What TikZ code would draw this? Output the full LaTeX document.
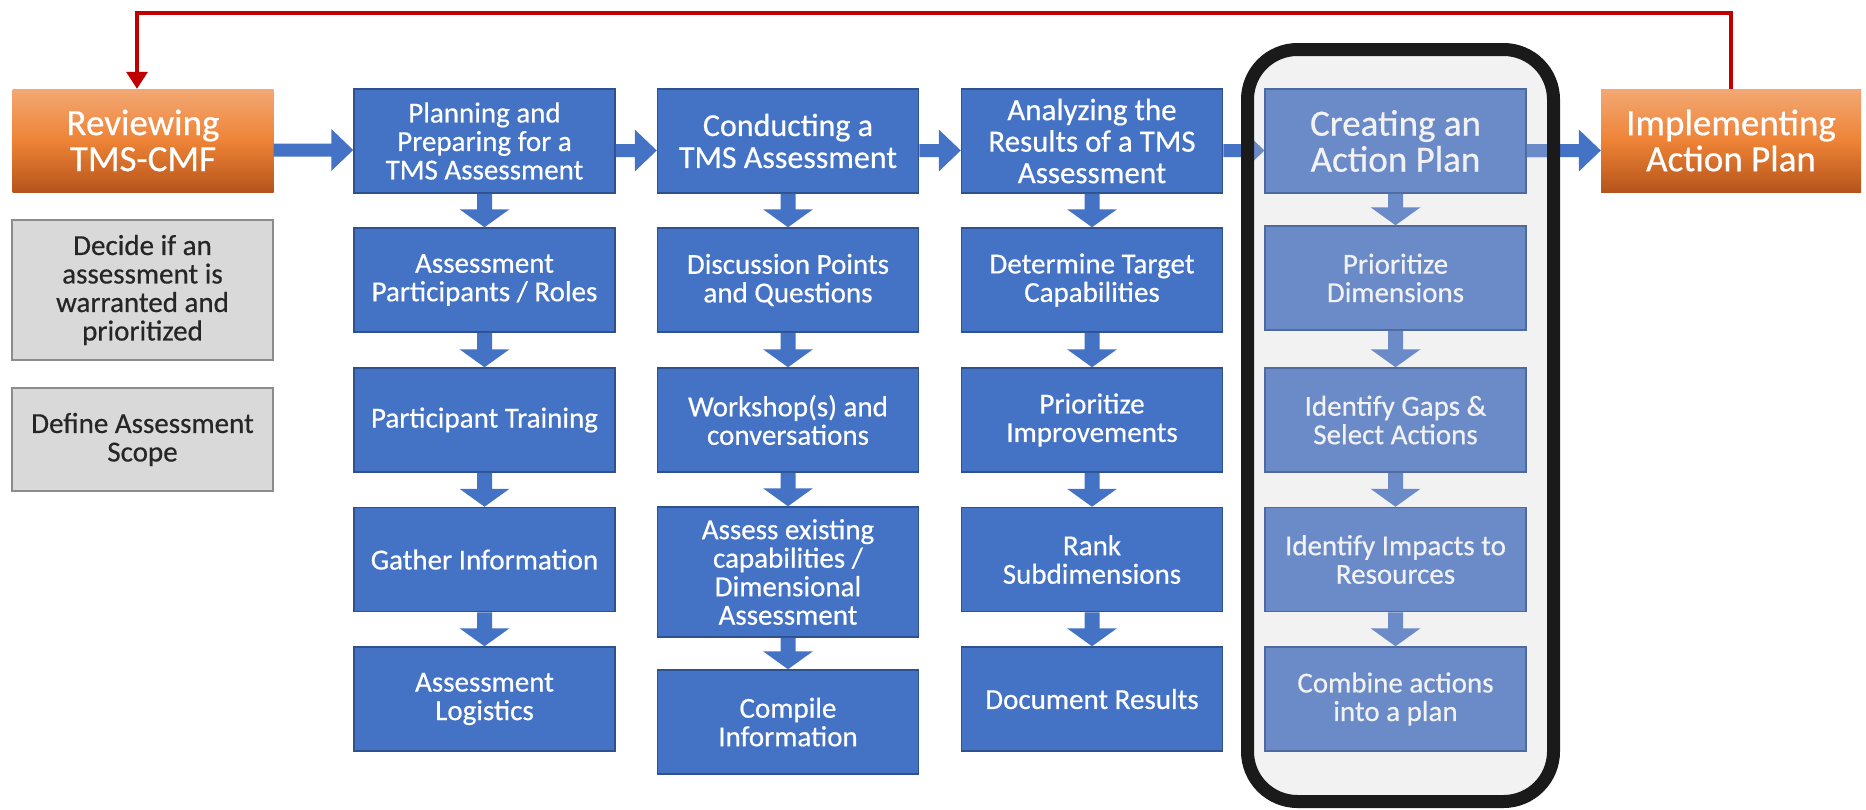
\documentclass[tikz,border=0pt]{standalone}
\usepackage{fontspec}
\setmainfont{Carlito}[FakeBold=0.5]
\usetikzlibrary{calc,arrows.meta}
\definecolor{bblue}{HTML}{4472C4}
\definecolor{bborder}{HTML}{2F528F}
\definecolor{lblue}{HTML}{6A8AC8}
\definecolor{lborder}{HTML}{4E6A9E}
\definecolor{ltext}{HTML}{F2F2F2}
\definecolor{gfill}{HTML}{D9D9D9}
\definecolor{gborder}{HTML}{8C8C8C}
\definecolor{gtext}{HTML}{262626}
\definecolor{regfill}{HTML}{F2F2F2}
\definecolor{regline}{HTML}{1A1A1A}
\definecolor{oTop}{HTML}{F3A874}
\definecolor{oMid}{HTML}{EE8336}
\definecolor{oBot}{HTML}{B5541B}
\definecolor{redline}{HTML}{C00000}
\tikzset{
  box/.style={rectangle, minimum width=261pt, minimum height=104pt, inner sep=2pt, align=center},
  bluebox/.style={box, fill=bblue, draw=bborder, line width=1.5pt, text=white, font=\fontsize{29}{28.5}\selectfont},
  lightbox/.style={box, fill=lblue, draw=lborder, line width=1.5pt, text=ltext, font=\fontsize{29}{28.5}\selectfont},
  graybox/.style={box, fill=gfill, draw=gborder, line width=2pt, text=gtext, font=\fontsize{29}{28.5}\selectfont},
  orangebox/.style={box, minimum height=103pt, top color=oTop, bottom color=oBot, middle color=oMid, text=white, font=\fontsize{37}{36}\selectfont},
  bigtext/.style={font=\fontsize{37}{36}\selectfont},
  redconn/.style={draw=redline, line width=3.5pt, -{Triangle[width=21pt,length=17pt]}},
}
\newcommand\harr[3]{\fill[#1] let \p1=(#2), \p2=(#3) in (\x1,\y1+6.5pt) -- (\x2-22pt,\y1+6.5pt) -- (\x2-22pt,\y1+21pt) -- (\x2,\y1) -- (\x2-22pt,\y1-21pt) -- (\x2-22pt,\y1-6.5pt) -- (\x1,\y1-6.5pt) -- cycle;}
\newcommand\varr[3]{\fill[#1] let \p1=(#2), \p2=(#3) in (\x1-7.5pt,\y1) -- (\x1-7.5pt,\y2+18pt) -- (\x1-25pt,\y2+18pt) -- (\x1,\y2) -- (\x1+25pt,\y2+18pt) -- (\x1+7.5pt,\y2+18pt) -- (\x1+7.5pt,\y1) -- cycle;}
\begin{document}
\begin{tikzpicture}[x=1pt,y=-1pt]
\useasboundingbox (0,0) rectangle (1866,809);
% region background
\fill[regfill, rounded corners=50pt] (1247.5,49.5) rectangle (1553.5,801.5);
% left column
\node[orangebox] (rev) at (143,140.5) {Reviewing\\TMS-CMF};
\node[graybox, minimum height=140pt] (g1) at (142.5,290) {Decide if an\\assessment is\\warranted and\\prioritized};
\node[graybox, minimum height=103pt] (g2) at (142.5,439.5) {Define Assessment\\Scope};
% column 1
\node[bluebox] (c1a) at (484.5,141) {Planning and\\Preparing for a\\TMS Assessment};
\node[bluebox] (c1b) at (484.5,280) {Assessment\\Participants / Roles};
\node[bluebox] (c1c) at (484.5,420) {Participant Training};
\node[bluebox] (c1d) at (484.5,559.5) {Gather Information};
\node[bluebox] (c1e) at (484.5,699) {Assessment\\Logistics};
% column 2
\node[bluebox, font=\fontsize{32}{32}\selectfont] (c2a) at (788,141) {Conducting a\\TMS Assessment};
\node[bluebox] (c2b) at (788,280) {Discussion Points\\and Questions};
\node[bluebox] (c2c) at (788,420) {Workshop(s) and\\conversations};
\node[bluebox, minimum height=130pt] (c2d) at (788,572) {Assess existing\\capabilities /\\Dimensional\\Assessment};
\node[bluebox] (c2e) at (788,722) {Compile\\Information};
% column 3
\node[bluebox, font=\fontsize{31}{31.5}\selectfont] (c3a) at (1092,141) {Analyzing the\\Results of a TMS\\Assessment};
\node[bluebox] (c3b) at (1092,280) {Determine Target\\Capabilities};
\node[bluebox] (c3c) at (1092,420) {Prioritize\\Improvements};
\node[bluebox] (c3d) at (1092,559.5) {Rank\\Subdimensions};
\node[bluebox] (c3e) at (1092,699) {Document Results};
% column 4
\node[lightbox, bigtext] (c4a) at (1395.5,141) {Creating an\\Action Plan};
\node[lightbox] (c4b) at (1395.5,278) {Prioritize\\Dimensions};
\node[lightbox] (c4c) at (1395.5,420) {Identify Gaps \&\\Select Actions};
\node[lightbox] (c4d) at (1395.5,559.5) {Identify Impacts to\\Resources};
\node[lightbox] (c4e) at (1395.5,699) {Combine actions\\into a plan};
% right
\node[orangebox, minimum width=260pt] (impl) at (1731,140.5) {Implementing\\Action Plan};
% horizontal arrows
\harr{bblue}{[yshift=-9.5pt]rev.east}{[yshift=-9.5pt]c1a.west}
\harr{bblue}{[yshift=-9.5pt]c1a.east}{[yshift=-9.5pt]c2a.west}
\harr{bblue}{[yshift=-9.5pt]c2a.east}{[yshift=-9.5pt]c3a.west}
\harr{bblue}{[yshift=-9.5pt]c3a.east}{[yshift=-9.5pt]c4a.west}
\harr{bblue}{[yshift=-9.5pt]c4a.east}{[yshift=-9.5pt]impl.west}
\begin{scope}
\clip[rounded corners=50pt] (1247.5,49.5) rectangle (1553.5,801.5);
\harr{lblue}{[yshift=-9.5pt]c3a.east}{[yshift=-9.5pt]c4a.west}
\harr{lblue}{[yshift=-9.5pt]c4a.east}{[yshift=-9.5pt]impl.west}
\end{scope}
% vertical arrows
\varr{bblue}{c1a.south}{c1b.north}
\varr{bblue}{c1b.south}{c1c.north}
\varr{bblue}{c1c.south}{c1d.north}
\varr{bblue}{c1d.south}{c1e.north}
\varr{bblue}{c2a.south}{c2b.north}
\varr{bblue}{c2b.south}{c2c.north}
\varr{bblue}{c2c.south}{c2d.north}
\varr{bblue}{c2d.south}{c2e.north}
\varr{bblue}{c3a.south}{c3b.north}
\varr{bblue}{c3b.south}{c3c.north}
\varr{bblue}{c3c.south}{c3d.north}
\varr{bblue}{c3d.south}{c3e.north}
\varr{lblue}{c4a.south}{c4b.north}
\varr{lblue}{c4b.south}{c4c.north}
\varr{lblue}{c4c.south}{c4d.north}
\varr{lblue}{c4d.south}{c4e.north}
% region border
\draw[regline, line width=13pt, rounded corners=50pt] (1247.5,49.5) rectangle (1553.5,801.5);
% feedback connector
\coordinate (topy) at (0,13);
\draw[redconn] (impl.north) -- (impl.north |- topy) -| ([xshift=-6pt]rev.north);
\end{tikzpicture}
\end{document}
